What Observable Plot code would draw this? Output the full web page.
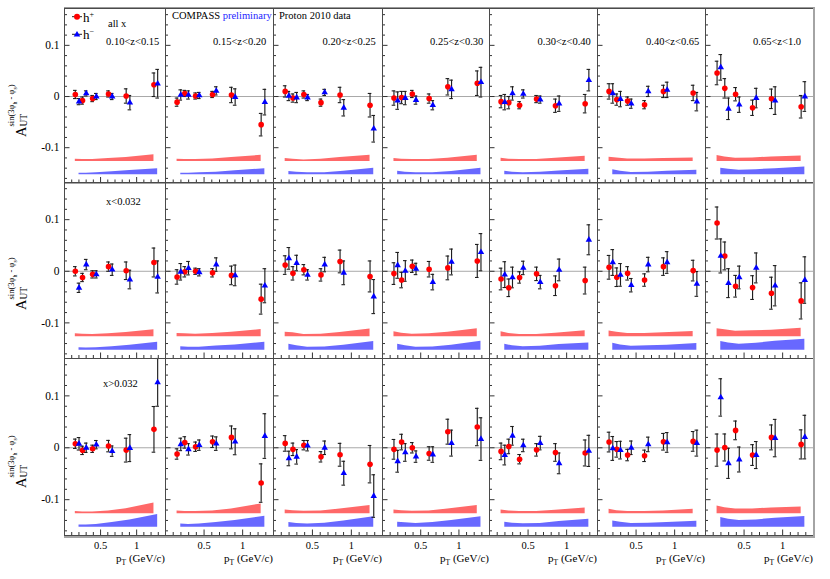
<!DOCTYPE html>
<html><head><meta charset="utf-8">
<script src="https://cdn.jsdelivr.net/npm/d3@7"></script>
<script src="https://cdn.jsdelivr.net/npm/@observablehq/plot@0.6"></script>
<style>
body{margin:0;background:#fff;}
#chart{position:relative;width:830px;height:579px;font-family:"Liberation Serif","Times New Roman",serif;color:#000;overflow:hidden;background:#fff;}
.panel{position:absolute;}
.lbl{position:absolute;white-space:nowrap;line-height:1;}
.ytitle{position:absolute;width:60px;height:28px;transform-origin:0 0;transform:rotate(-90deg);}
.ytitle span{position:absolute;white-space:nowrap;line-height:1;}
sub,sup{line-height:0;}
</style></head><body><div id="chart"></div>
<script>
// ---------- data ----------
const zBins = ["0.10<z<0.15","0.15<z<0.20","0.20<z<0.25","0.25<z<0.30","0.30<z<0.40","0.40<z<0.65","0.65<z<1.0"];
const xBins = ["all x","x<0.032","x>0.032"];
const pT = [0.15, 0.25, 0.39, 0.61, 0.855, 1.24];
const yMajor = [-0.1, 0, 0.1];
const yMinor = [-0.16,-0.14,-0.12,-0.08,-0.06,-0.04,-0.02,0.02,0.04,0.06,0.08,0.12,0.14,0.16];
const xMajor = [0.5, 1];
const xMinor = [0.1,0.2,0.3,0.4,0.6,0.7,0.8,0.9,1.1,1.2,1.3];
const sysBasePos = -0.127, sysBaseNeg = -0.153;

// all x
const aPos_all = [
 [0.004,-0.008,-0.004,0.005,0.001,0.023],
 [-0.011,0.006,0.001,0.004,0.003,-0.055],
 [0.010,-0.003,0.004,-0.012,0.003,-0.017],
 [-0.003,-0.002,0.005,-0.004,0.019,0.026],
 [-0.010,-0.012,-0.017,-0.005,-0.018,-0.014],
 [0.010,-0.006,-0.009,-0.016,0.010,0.007],
 [0.046,0.016,0.0045,-0.022,-0.0045,-0.020]];
const ePos_all = [
 [0.008,0.007,0.006,0.006,0.014,0.023],
 [0.008,0.006,0.006,0.006,0.015,0.022],
 [0.011,0.008,0.007,0.007,0.015,0.023],
 [0.014,0.012,0.007,0.009,0.016,0.024],
 [0.012,0.012,0.007,0.007,0.013,0.018],
 [0.015,0.011,0.008,0.008,0.012,0.015],
 [0.023,0.019,0.013,0.015,0.019,0.022]];
const aNeg_all = [
 [-0.010,0.006,0.0,0.0,-0.012,0.025],
 [0.003,0.003,0.002,0.011,-0.001,-0.011],
 [0.001,-0.002,-0.002,0.008,-0.022,-0.063],
 [-0.008,-0.003,-0.007,-0.017,0.014,0.028],
 [-0.011,0.006,0.005,-0.006,-0.014,0.032],
 [0.006,-0.005,-0.014,0.010,0.013,-0.010],
 [0.057,-0.024,-0.016,-0.003,-0.008,0.0]];
const eNeg_all = [
 [0.006,0.005,0.006,0.006,0.014,0.028],
 [0.010,0.008,0.006,0.008,0.016,0.025],
 [0.009,0.010,0.006,0.006,0.016,0.026],
 [0.017,0.013,0.008,0.009,0.018,0.029],
 [0.015,0.013,0.008,0.007,0.015,0.021],
 [0.019,0.015,0.009,0.010,0.015,0.018],
 [0.025,0.021,0.015,0.019,0.027,0.029]];
const sPos_all = [
 [0.0045,0.004,0.004,0.006,0.008,0.013],
 [0.0045,0.004,0.004,0.005,0.008,0.012],
 [0.006,0.0045,0.003,0.0045,0.008,0.012],
 [0.006,0.0045,0.004,0.004,0.0065,0.012],
 [0.0065,0.0045,0.004,0.004,0.0065,0.0105],
 [0.0084,0.007,0.005,0.005,0.006,0.007],
 [0.0116,0.009,0.0065,0.007,0.009,0.011]];
const sNeg_all = [
 [0.0032,0.0032,0.004,0.006,0.0085,0.012],
 [0.0032,0.0032,0.004,0.005,0.008,0.012],
 [0.0065,0.005,0.004,0.004,0.007,0.013],
 [0.007,0.005,0.004,0.004,0.0065,0.013],
 [0.007,0.005,0.004,0.005,0.0075,0.011],
 [0.0097,0.007,0.0045,0.005,0.007,0.009],
 [0.013,0.011,0.009,0.010,0.012,0.0155]];

// x<0.032
const aPos_lo = [
 [0.0,-0.012,-0.006,0.009,0.001,0.017],
 [-0.011,-0.001,0.0,-0.003,-0.008,-0.054],
 [0.012,-0.004,0.003,-0.007,0.019,-0.010],
 [-0.0045,-0.017,0.0097,0.004,0.0065,0.020],
 [-0.015,-0.032,-0.012,-0.005,-0.028,-0.018],
 [0.0077,-0.0115,-0.004,-0.017,0.009,0.0013],
 [0.0935,0.0297,-0.029,-0.0316,-0.0425,-0.0574]];
const ePos_lo = [
 [0.009,0.008,0.007,0.009,0.017,0.028],
 [0.014,0.010,0.006,0.008,0.018,0.029],
 [0.018,0.013,0.010,0.012,0.022,0.030],
 [0.021,0.015,0.012,0.015,0.023,0.032],
 [0.021,0.017,0.011,0.013,0.019,0.026],
 [0.023,0.018,0.013,0.012,0.017,0.020],
 [0.031,0.027,0.021,0.023,0.031,0.035]];
const aNeg_lo = [
 [-0.032,0.013,-0.006,0.003,-0.016,-0.011],
 [-0.001,0.006,-0.002,0.013,-0.008,-0.028],
 [0.025,0.016,-0.007,0.013,-0.003,-0.049],
 [0.0115,0.0006,0.0045,-0.021,0.018,0.037],
 [-0.0065,-0.012,0.0065,-0.021,0.0026,0.061],
 [0.017,-0.007,-0.027,0.013,0.017,-0.0245],
 [0.0297,-0.023,-0.012,0.0065,-0.028,-0.017]];
const eNeg_lo = [
 [0.009,0.010,0.007,0.011,0.018,0.031],
 [0.016,0.013,0.007,0.013,0.020,0.033],
 [0.021,0.015,0.010,0.014,0.023,0.033],
 [0.025,0.020,0.011,0.015,0.025,0.036],
 [0.025,0.020,0.013,0.013,0.021,0.029],
 [0.025,0.022,0.013,0.014,0.021,0.024],
 [0.033,0.028,0.022,0.029,0.039,0.045]];
const sPos_lo = [
 [0.006,0.005,0.0045,0.006,0.0085,0.0135],
 [0.0065,0.006,0.005,0.0065,0.009,0.014],
 [0.009,0.0077,0.0045,0.005,0.0085,0.015],
 [0.0097,0.007,0.005,0.006,0.009,0.0155],
 [0.0097,0.0065,0.0045,0.0045,0.007,0.012],
 [0.0115,0.009,0.0065,0.0065,0.0077,0.0103],
 [0.0155,0.0135,0.011,0.0116,0.0129,0.0168]];
const sNeg_lo = [
 [0.005,0.0045,0.005,0.007,0.0097,0.0155],
 [0.007,0.006,0.006,0.008,0.010,0.0155],
 [0.0115,0.0085,0.006,0.0065,0.0097,0.017],
 [0.0115,0.0085,0.006,0.0065,0.0097,0.0175],
 [0.0115,0.0085,0.007,0.0077,0.011,0.014],
 [0.0135,0.0103,0.0077,0.0085,0.0097,0.013],
 [0.0168,0.0142,0.0116,0.0135,0.0174,0.0213]];

// x>0.032
const aPos_hi = [
 [0.0077,-0.005,-0.002,0.0032,-0.0045,0.0355],
 [-0.012,0.0103,0.002,0.0116,0.020,-0.068],
 [0.0084,-0.003,0.005,-0.0174,-0.0135,-0.0316],
 [-0.003,0.011,0.0,-0.011,0.031,0.040],
 [-0.007,0.0026,-0.022,-0.004,-0.009,-0.010],
 [0.011,-0.003,-0.014,-0.0155,0.0116,0.0123],
 [-0.0045,0.0006,0.0335,-0.014,0.020,0.0065]];
const ePos_hi = [
 [0.009,0.008,0.007,0.011,0.023,0.044],
 [0.010,0.011,0.009,0.011,0.022,0.037],
 [0.015,0.012,0.009,0.010,0.022,0.036],
 [0.019,0.015,0.010,0.013,0.024,0.036],
 [0.016,0.014,0.009,0.012,0.017,0.025],
 [0.019,0.015,0.011,0.011,0.016,0.019],
 [0.031,0.026,0.018,0.020,0.024,0.028]];
const aNeg_hi = [
 [0.0077,0.0,0.006,-0.0065,-0.0006,0.126],
 [0.0065,-0.003,0.005,0.008,0.0116,0.0226],
 [-0.0206,-0.0174,0.004,0.0,-0.049,-0.093],
 [-0.026,-0.009,-0.017,-0.013,0.009,0.0168],
 [-0.014,0.023,0.0045,0.009,-0.030,-0.006],
 [-0.0013,-0.0045,0.0,0.0065,0.0103,0.009],
 [0.097,-0.030,-0.0226,-0.014,0.0187,0.0206]];
const eNeg_hi = [
 [0.012,0.009,0.008,0.010,0.026,0.046],
 [0.012,0.011,0.010,0.013,0.025,0.043],
 [0.014,0.014,0.010,0.013,0.023,0.041],
 [0.021,0.017,0.011,0.015,0.025,0.041],
 [0.019,0.018,0.012,0.013,0.020,0.030],
 [0.023,0.017,0.013,0.014,0.019,0.025],
 [0.036,0.029,0.024,0.026,0.036,0.042]];
const sPos_hi = [
 [0.004,0.0032,0.0032,0.005,0.0097,0.0206],
 [0.005,0.004,0.004,0.005,0.009,0.0187],
 [0.007,0.0058,0.0045,0.005,0.009,0.016],
 [0.007,0.0058,0.0045,0.005,0.009,0.016],
 [0.007,0.005,0.004,0.004,0.0065,0.011],
 [0.0084,0.0058,0.004,0.004,0.005,0.0084],
 [0.0148,0.0116,0.009,0.009,0.011,0.013]];
const sNeg_hi = [
 [0.004,0.004,0.005,0.009,0.014,0.0245],
 [0.006,0.005,0.006,0.009,0.013,0.021],
 [0.009,0.007,0.006,0.0077,0.012,0.020],
 [0.0097,0.0084,0.007,0.009,0.013,0.020],
 [0.0097,0.0077,0.0065,0.007,0.011,0.0155],
 [0.012,0.0097,0.007,0.0077,0.009,0.0116],
 [0.0187,0.0155,0.013,0.014,0.0174,0.0206]];

// ---------- layout ----------
const rows = [
 {aPos:aPos_all,ePos:ePos_all,aNeg:aNeg_all,eNeg:eNeg_all,sPos:sPos_all,sNeg:sNeg_all},
 {aPos:aPos_lo,ePos:ePos_lo,aNeg:aNeg_lo,eNeg:eNeg_lo,sPos:sPos_lo,sNeg:sNeg_lo},
 {aPos:aPos_hi,ePos:ePos_hi,aNeg:aNeg_hi,eNeg:eNeg_hi,sPos:sPos_hi,sNeg:sNeg_hi}];
const colEdges = [64,165,273,382,489,597,705,813];
const rowEdges = [7.5,182,358,535];
const xDomain = [0, 1.4];
const yDomain = [-0.169, 0.172];
const RED = "#ff0000", BLUE = "#0000ff", RED_BAND = "#ff6868", BLUE_BAND = "#6868ff";
const shift = 3.7;

const chart = document.getElementById("chart");

function panel(r, c) {
  const w = colEdges[c+1] - colEdges[c], h = rowEdges[r+1] - rowEdges[r];
  const ml = c === 0 ? 40 : 0, mb = r === 2 ? 30 : 0;
  const R = rows[r];
  const pos = pT.map((x, i) => ({x, a: R.aPos[c][i], e: R.ePos[c][i], s: R.sPos[c][i]}));
  const neg = pT.map((x, i) => ({x, a: R.aNeg[c][i], e: R.eNeg[c][i], s: R.sNeg[c][i]}));
  const bars = (data, dx) => [
    Plot.ruleX(data, {x: "x", y1: d => d.a - d.e, y2: d => d.a + d.e, stroke: "#1e1e1e", strokeWidth: 1.15, dx}),
    Plot.ruleY(data, {y: d => d.a + d.e, x1: "x", x2: "x", insetLeft: -1.8, insetRight: -1.8, stroke: "#1e1e1e", strokeWidth: 1.1, dx}),
    Plot.ruleY(data, {y: d => d.a - d.e, x1: "x", x2: "x", insetLeft: -1.8, insetRight: -1.8, stroke: "#1e1e1e", strokeWidth: 1.1, dx})
  ];
  const marks = [
    Plot.areaY(pos, {x: "x", y1: () => sysBasePos, y2: d => sysBasePos + d.s, fill: RED_BAND}),
    Plot.areaY(neg, {x: "x", y1: () => sysBaseNeg, y2: d => sysBaseNeg + d.s, fill: BLUE_BAND, dx: shift}),
    Plot.ruleY([0], {stroke: "#a8a8a8", strokeWidth: 1}),
    Plot.ruleY(yMinor, {y: d => d, insetRight: w - 3, stroke: "#333"}),
    Plot.ruleY(yMajor, {y: d => d, insetRight: w - 5.5, stroke: "#333"}),
    Plot.ruleX(xMinor, {x: d => d, insetTop: h - 3, stroke: "#333"}),
    Plot.ruleX(xMajor, {x: d => d, insetTop: h - 5.5, stroke: "#333"}),
    ...bars(pos, 0),
    ...bars(neg, shift),
    Plot.dot(pos, {x: "x", y: "a", r: 2.8, fill: RED}),
    Plot.dot(neg, {x: "x", y: "a", r: 2.4, symbol: "triangle", fill: BLUE, dx: shift}),
    Plot.frame({stroke: "#4a4a4a", strokeWidth: 1})
  ];
  const hasY = c === 0, hasX = r === 2;
  if (hasY) marks.push(Plot.axisY(yMajor, {tickSize: 0, tickPadding: 5, tickFormat: d => String(d), fontSize: 11.5, label: null}));
  if (hasX) marks.push(Plot.axisX(xMajor, {tickSize: 0, tickPadding: 6, tickFormat: d => String(d), fontSize: 10.5, label: null}));
  const xOpts = {domain: xDomain}, yOpts = {domain: yDomain};
  if (!hasX) xOpts.axis = null;
  if (!hasY) yOpts.axis = null;
  const svg = Plot.plot({
    width: w + ml, height: h + mb,
    marginLeft: ml, marginRight: 0, marginTop: 0, marginBottom: mb,
    x: xOpts, y: yOpts,
    style: {background: "transparent", overflow: "visible", fontFamily: "Liberation Serif, Times New Roman, serif", fontSize: "11px", color: "#000"},
    marks
  });
  svg.classList.add("panel");
  svg.style.left = (colEdges[c] - ml) + "px";
  svg.style.top = rowEdges[r] + "px";
  svg.style.position = "absolute";
  svg.style.maxWidth = "none";
  chart.appendChild(svg);
}
for (let r = 0; r < 3; r++) for (let c = 0; c < 7; c++) panel(r, c);

// outer border
const border = document.createElement("div");
Object.assign(border.style, {position: "absolute", left: "64px", top: "7px", width: "749px", height: "528px",
  borderRight: "2px solid #a4a4a4", borderBottom: "2px solid #a4a4a4", borderTop: "1px solid #9a9a9a", pointerEvents: "none"});
chart.appendChild(border);

function label(html, x, yc, size, extra) {
  const d = document.createElement("div");
  d.className = "lbl";
  d.innerHTML = html;
  d.style.fontSize = size + "px";
  d.style.left = x + "px";
  d.style.top = (yc - 0.51 * size) + "px";
  if (extra) Object.assign(d.style, extra);
  chart.appendChild(d);
  return d;
}
function esc(s) { return s.replace(/</g, "&lt;").replace(/>/g, "&gt;"); }

// z-bin labels (top row)
const zLeft = [106, 213, 322.5, 430, 537.5, 646, 753];
zBins.forEach((t, i) => label(esc(t), zLeft[i], 42, 10.5));
// x-bin labels
label(esc(xBins[0]), 108, 24.5, 10.5);
label(esc(xBins[1]), 106, 202.7, 10.5);
label(esc(xBins[2]), 103, 384, 10.5);
// header
label('COMPASS <span style="color:#2424ff">preliminary</span>', 172, 16.7, 10.5);
label('Proton 2010 data', 279, 16.7, 10.5);

// legend
const leg = document.createElementNS("http://www.w3.org/2000/svg", "svg");
leg.setAttribute("width", "20"); leg.setAttribute("height", "40");
Object.assign(leg.style, {position: "absolute", left: "68px", top: "6px", overflow: "visible"});
leg.innerHTML = '<line x1="4" x2="14" y1="10.7" y2="10.7" stroke="#222" stroke-width="1"/>' +
  '<circle cx="9" cy="10.7" r="3" fill="' + RED + '"/>' +
  '<line x1="4" x2="14" y1="28.3" y2="28.3" stroke="#222" stroke-width="1"/>' +
  '<path d="M9,25 L12.3,30.6 L5.7,30.6 Z" fill="' + BLUE + '"/>';
chart.appendChild(leg);
label('h<sup style="font-size:8px">+</sup>', 83, 17.5, 13);
label('h<sup style="font-size:8px">&minus;</sup>', 83, 35, 13);

// x-axis titles
for (let c = 0; c < 7; c++) {
  const d = label('p<sub style="font-size:7.5px">T</sub> (GeV/c)', 0, 559, 11);
  d.style.left = "auto";
  d.style.right = (830 - colEdges[c+1]) + "px";
}

// y-axis titles
[137, 310, 488].forEach(top => {
  const t = document.createElement("div");
  t.className = "ytitle";
  t.style.left = "6px";
  t.style.top = top + "px";
  t.innerHTML = '<span style="left:0;top:8px;font-size:14.5px">A</span>' +
    '<span style="left:10.5px;top:14px;font-size:9.5px">UT</span>' +
    '<span style="left:10.5px;top:1px;font-size:8.5px">sin(3&phi;<sub style="font-size:6px">h</sub> - &phi;<sub style="font-size:6px">s</sub>)</span>';
  chart.appendChild(t);
});
</script></body></html>
